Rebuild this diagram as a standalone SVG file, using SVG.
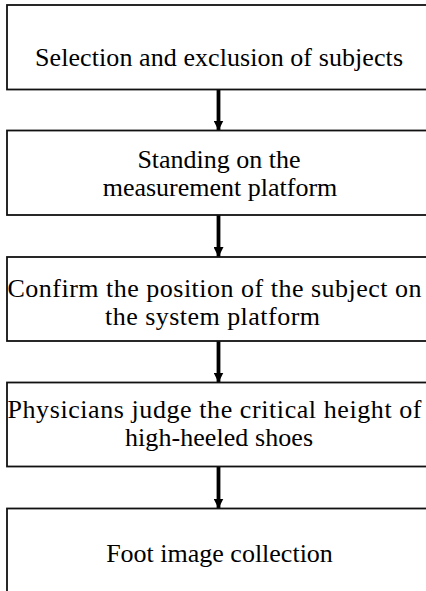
<svg xmlns="http://www.w3.org/2000/svg" width="426" height="591" viewBox="0 0 426 591">
<style>
.box{fill:#fff;stroke:#111;stroke-width:1.8}
.t{font-family:"Liberation Serif","Times New Roman",serif;font-size:26px;fill:#000;text-anchor:middle}
.c{stroke:#000;stroke-width:3.8;fill:none}
</style>
<defs>
<marker id="ah" viewBox="0 0 10 10" refX="10" refY="5" markerWidth="10" markerHeight="10" markerUnits="userSpaceOnUse" orient="auto">
<path d="M0,0 L10,5 L0,10 Z" fill="#000"/>
</marker>
</defs>
<rect width="426" height="591" fill="#fff"/>
<g id="connectors">
<line class="c" x1="218.5" y1="89.5" x2="218.5" y2="130.5" marker-end="url(#ah)"/>
<line class="c" x1="218.5" y1="215" x2="218.5" y2="257" marker-end="url(#ah)"/>
<line class="c" x1="218.5" y1="341" x2="218.5" y2="382.5" marker-end="url(#ah)"/>
<line class="c" x1="218.5" y1="466.5" x2="218.5" y2="508.5" marker-end="url(#ah)"/>
</g>
<g id="n1">
<rect class="box" x="7" y="5" width="425" height="84.5"/>
<text class="t" x="219" y="65.5" textLength="368" lengthAdjust="spacing">Selection and exclusion of subjects</text>
</g>
<g id="n2">
<rect class="box" x="7" y="130.5" width="425" height="84.5"/>
<text class="t" x="219" y="168">Standing on the</text>
<text class="t" x="220" y="195.7">measurement platform</text>
</g>
<g id="n3">
<rect class="box" x="7" y="257" width="425" height="84"/>
<text class="t" x="214.5" y="296.7" textLength="414" lengthAdjust="spacing">Confirm the position of the subject on</text>
<text class="t" x="212.5" y="324.5" textLength="215" lengthAdjust="spacing">the system platform</text>
</g>
<g id="n4">
<rect class="box" x="7" y="382.5" width="425" height="84"/>
<text class="t" x="214.5" y="417.7" textLength="414" lengthAdjust="spacing">Physicians judge the critical height of</text>
<text class="t" x="219" y="446" textLength="188" lengthAdjust="spacing">high-heeled shoes</text>
</g>
<g id="n5">
<rect class="box" x="7" y="508.5" width="425" height="100"/>
<text class="t" x="219.5" y="562">Foot image collection</text>
</g>
</svg>
